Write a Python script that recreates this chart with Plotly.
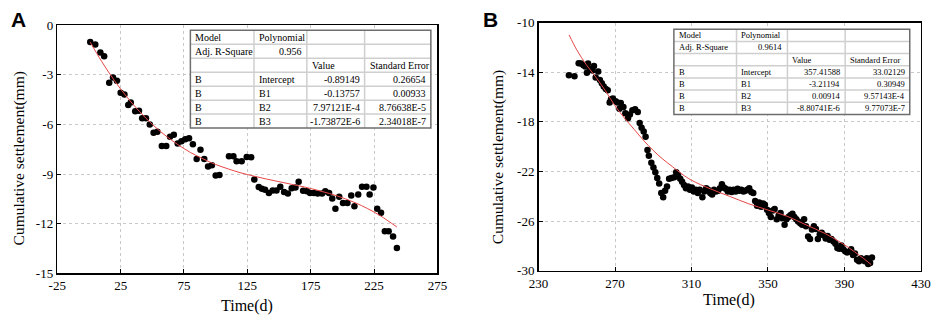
import plotly.graph_objects as go

W, H = 941, 324

# ---------------- Data: panel A ----------------
time_a = [1, 5, 9, 12, 16, 19, 22, 25, 28, 31, 33, 36.5, 39.5, 42, 45, 48, 51, 54, 57.5, 61, 64, 67,
          70, 73, 76, 79, 82, 85, 88, 91, 94, 97, 100, 103, 110.5, 114, 116.5, 120.5, 124.5, 128,
          130.5, 134, 136.5, 139, 142, 145, 148, 151, 154, 157, 160, 163, 165.5, 169, 172, 174.5,
          177.5, 180.5, 184, 186.5, 189.5, 192, 194.5, 197.5, 200.5, 204, 207, 209.5, 212.5, 215.5,
          219, 221.5, 224.5, 227.5, 230.5, 233.5, 236.5, 240, 243]
settle_a = [-1.02, -1.17, -1.65, -1.88, -3.48, -3.17, -3.36, -4.09, -4.19, -4.82, -4.67, -5.2, -5.17,
            -5.63, -5.63, -6.01, -6.51, -6.45, -7.3, -7.3, -6.74, -6.63, -7.16, -7.01, -6.89, -6.84,
            -7.2, -8.09, -7.53, -8.09, -8.55, -8.47, -9.08, -9.05, -7.93, -7.93, -8.22, -8.22, -7.97,
            -7.99, -9.33, -9.78, -9.89, -9.95, -10.14, -9.99, -9.99, -9.76, -10.09, -10.18, -9.85,
            -9.81, -9.47, -10.01, -10.04, -10.14, -10.14, -10.18, -10.18, -10.04, -10.14, -10.47,
            -11.1, -10.37, -10.75, -10.75, -10.29, -10.94, -10.24, -9.76, -9.76, -10.24, -9.81,
            -11.1, -11.33, -12.46, -12.46, -12.77, -13.46]
fit_time_a = [1, 10, 20, 30, 40, 50, 60, 70, 80, 90, 100, 110, 120, 130, 140, 150, 160, 170, 180,
              190, 200, 210, 220, 230, 243]
fit_settle_a = [-1.03, -2.19, -3.34, -4.35, -5.23, -6.0, -6.65, -7.21, -7.69, -8.08, -8.42, -8.69,
                -8.93, -9.12, -9.3, -9.46, -9.62, -9.78, -9.97, -10.18, -10.43, -10.73, -11.09,
                -11.52, -12.2]

# ---------------- Data: panel B ----------------
time_b = [245.9, 248.8, 251, 252.2, 253.5, 254.5, 255.3, 255.9, 257, 258.2, 259, 259.9, 261.2, 262.1,
          263.1, 264.1, 265.2, 266.2, 267.2, 267.9, 268.9, 270.3, 271.3, 272.3, 273, 274.4, 275.4,
          276.8, 277.8, 279.1, 280.5, 281.9, 282.9, 283.9, 285, 286, 287, 287.7, 289, 290.1, 291.1,
          292.1, 293.1, 294.2, 295.2, 296.2, 297.2, 298.3, 299.6, 301, 302, 303, 304.1, 305.1, 306.1,
          307.1, 308.2, 309.2, 310.2, 311.2, 312.3, 313.3, 314.3, 315.7, 316.7, 317.7, 318.7, 319.8,
          320.8, 321.8, 322.8, 323.9, 324.9, 325.9, 326.9, 327.9, 329, 330, 331, 332, 333.1, 334.1,
          335.1, 336.1, 337.2, 338.2, 339.2, 340.2, 341.3, 342.3, 343.3, 344.3, 345.4, 346.4, 347.4,
          348.4, 349.5, 350.5, 351.5, 352.5, 353.5, 354.6, 355.6, 356.6, 357.6, 358.7, 359.7, 360.7,
          361.7, 362.8, 363.8, 364.8, 365.8, 366.9, 367.9, 368.9, 369.9, 371, 372, 373, 374, 375.1,
          376.1, 377.1, 378.1, 379.1, 380.2, 381.2, 382.2, 383.2, 384.3, 385.3, 386.3, 387.3, 388.4,
          389.4, 390.4, 391.4, 392.5, 393.5, 394.5, 395.5, 396.6, 397.6, 398.6, 399.6, 400.7, 401.7,
          402.4, 403.4, 404.4]
settle_b = [-14.25, -14.33, -13.28, -13.3, -13.43, -13.53, -14.05, -13.3, -13.74, -13.87, -13.5,
            -14.43, -13.94, -14.63, -14.89, -15.15, -15.35, -15.45, -16.43, -16.17, -16.12, -16.33,
            -16.43, -16.94, -16.48, -16.81, -17.3, -17.71, -17.4, -17.07, -16.99, -17.2, -18.09,
            -18.48, -18.78, -19.19, -20.27, -20.73, -21.29, -21.68, -22.06, -22.52, -22.96, -23.73,
            -24.06, -23.55, -23.21, -22.57, -22.52, -22.45, -22.06, -22.27, -22.57, -22.83, -23.09,
            -23.34, -23.21, -23.47, -23.29, -23.6, -23.47, -23.73, -23.47, -24.06, -23.6, -23.34,
            -23.47, -23.73, -23.85, -23.47, -23.6, -23.55, -23.34, -23.03, -23.29, -23.39, -23.6,
            -23.47, -23.65, -23.47, -23.6, -23.39, -23.55, -23.47, -23.6, -23.55, -23.47, -23.34,
            -23.65, -23.73, -24.37, -24.75, -24.5, -24.83, -24.58, -24.68, -25.08, -25.34, -25.65,
            -25.13, -25.01, -25.85, -25.52, -25.34, -25.77, -26.29, -25.85, -25.65, -25.52, -25.39,
            -25.65, -25.85, -26.03, -26.16, -26.29, -25.85, -26.41, -27.23, -27.44, -26.67, -26.41,
            -26.62, -27.44, -27.06, -26.93, -27.13, -27.39, -27.18, -27.49, -27.44, -27.64, -27.82,
            -28.16, -28.21, -27.95, -28.26, -28.41, -28.52, -28.46, -28.26, -28.72, -28.59, -29.1,
            -29.23, -28.98, -29.1, -29.23, -28.98, -29.44, -29.36, -28.92]
fit_time_b = [246, 250, 255, 260, 265, 270, 275, 280, 285, 290, 295, 300, 305, 310, 320, 330, 340,
              350, 360, 370, 380, 390, 400, 404]
fit_settle_b = [-11.0, -12.2, -13.4, -14.4, -15.5, -16.7, -17.7, -18.6, -19.5, -20.3, -21.0, -21.6,
                -22.2, -22.7, -23.4, -24.0, -24.6, -25.1, -25.6, -26.3, -27.0, -27.9, -29.0, -29.5]

# ---------------- Tick labels ----------------
xticks_a = [-25, 25, 75, 125, 175, 225, 275]
xticklabels_a = ["-25", "25", "75", "125", "175", "225", "275"]
yticks_a = [0, -3, -6, -9, -12, -15]
yticklabels_a = ["0", "-3", "-6", "-9", "-12", "-15"]
xticks_b = [230, 270, 310, 350, 390, 430]
xticklabels_b = ["230", "270", "310", "350", "390", "430"]
yticks_b = [-10, -14, -18, -22, -26, -30]
yticklabels_b = ["-10", "-14", "-18", "-22", "-26", "-30"]

# ---------------- Fit tables ----------------
table_a = [["Model", "Polynomial", "", ""],
           ["Adj. R-Square", "0.956", "", ""],
           ["", "", "Value", "Standard Error"],
           ["B", "Intercept", "-0.89149", "0.26654"],
           ["B", "B1", "-0.13757", "0.00933"],
           ["B", "B2", "7.97121E-4", "8.76638E-5"],
           ["B", "B3", "-1.73872E-6", "2.34018E-7"]]
table_b = [["Model", "Polynomial", "", ""],
           ["Adj. R-Square", "0.9614", "", ""],
           ["", "", "Value", "Standard Error"],
           ["B", "Intercept", "357.41588", "33.02129"],
           ["B", "B1", "-3.21194", "0.30949"],
           ["B", "B2", "0.00914", "9.57143E-4"],
           ["B", "B3", "-8.80741E-6", "9.77073E-7"]]


def px(x):
    return x / W


def py(y):
    return 1 - y / H


SERIF = "Liberation Serif"

fig = go.Figure()

fig.add_trace(go.Scatter(x=time_a, y=settle_a, mode="markers", xaxis="x", yaxis="y",
                         marker=dict(color="black", size=6.5), showlegend=False))
fig.add_trace(go.Scatter(x=fit_time_a, y=fit_settle_a, mode="lines", xaxis="x", yaxis="y",
                         line=dict(color="rgb(230,70,70)", width=1, shape="spline"), showlegend=False))
fig.add_trace(go.Scatter(x=time_b, y=settle_b, mode="markers", xaxis="x2", yaxis="y2",
                         marker=dict(color="black", size=6.5), showlegend=False))
fig.add_trace(go.Scatter(x=fit_time_b, y=fit_settle_b, mode="lines", xaxis="x2", yaxis="y2",
                         line=dict(color="rgb(230,70,70)", width=1, shape="spline"), showlegend=False))

axis_common = dict(showline=True, linecolor="black", linewidth=1.5, mirror=True,
                   ticks="inside", ticklen=4, tickcolor="black", tickwidth=1,
                   showgrid=True, gridcolor="#c9c9c9", griddash="dot", gridwidth=1,
                   zeroline=False, tickfont=dict(family=SERIF, size=13, color="black"),
                   ticklabeloverflow="allow", fixedrange=True)

fig.update_layout(
    width=W, height=H, margin=dict(l=0, r=0, t=0, b=0),
    font=dict(family=SERIF, color="black"),
    paper_bgcolor="white", plot_bgcolor="white", showlegend=False,
    xaxis=dict(domain=[px(48.3), px(436.7)], anchor="y", range=[-25, 275],
               tickvals=xticks_a, ticktext=xticklabels_a, **axis_common),
    yaxis=dict(domain=[py(279.3), py(19)], anchor="x", range=[-15, 0],
               tickvals=yticks_a, ticktext=yticklabels_a, **axis_common),
    xaxis2=dict(domain=[px(540), px(930.7)], anchor="y2", range=[230, 430],
                tickvals=xticks_b, ticktext=xticklabels_b, **axis_common),
    yaxis2=dict(domain=[py(276.7), py(16.3)], anchor="x2", range=[-30, -10],
                tickvals=yticks_b, ticktext=yticklabels_b, **axis_common),
)

shapes = []
annotations = []


def draw_table(rows, left, top, colb, rowh, fsize, pad):
    n = len(rows)
    bottom = top + n * rowh
    shapes.append(dict(type="rect", xref="paper", yref="paper", x0=px(left), x1=px(colb[-1]),
                       y0=py(bottom), y1=py(top), fillcolor="white", line=dict(width=0),
                       layer="above"))
    for i in range(1, n):
        yy = py(top + i * rowh)
        shapes.append(dict(type="line", xref="paper", yref="paper", x0=px(left), x1=px(colb[-1]),
                           y0=yy, y1=yy, line=dict(color="#cfcfcf", width=1.5), layer="above"))
    for c in colb[1:-1]:
        shapes.append(dict(type="line", xref="paper", yref="paper", x0=px(c), x1=px(c),
                           y0=py(bottom), y1=py(top), line=dict(color="#cfcfcf", width=1.5),
                           layer="above"))
    shapes.append(dict(type="rect", xref="paper", yref="paper", x0=px(left), x1=px(colb[-1]),
                       y0=py(bottom), y1=py(top), line=dict(color="#6e6e6e", width=1.5),
                       layer="above"))
    for r, row in enumerate(rows):
        yc = py(top + (r + 0.5) * rowh)
        for c, txt in enumerate(row):
            if not txt:
                continue
            right_align = (r == 1 and c == 1) or (r >= 3 and c >= 2)
            if right_align:
                xx, anc = px(colb[c + 1] - pad), "right"
            else:
                xx, anc = px(colb[c] + pad), "left"
            annotations.append(dict(text=txt, xref="paper", yref="paper", x=xx, y=yc,
                                    xanchor=anc, yanchor="middle", showarrow=False,
                                    font=dict(family=SERIF, size=fsize, color="black")))


draw_table(table_a, 184.3, 24.3, [184.3, 249.3, 303.3, 362.3, 430], 14.67, 10, 3)
draw_table(table_b, 678.3, 23.3, [678.3, 742.3, 794.3, 853.3, 919.3], 12.77, 8.5, 3)

# Axis titles and panel letters
annotations += [
    dict(text="Cumulative settlement(mm)", xref="paper", yref="paper", x=px(9), y=py(159),
         textangle=-90, showarrow=False, xanchor="center", yanchor="middle",
         font=dict(family=SERIF, size=15.5, color="black")),
    dict(text="Time(d)", xref="paper", yref="paper", x=px(242), y=py(314),
         showarrow=False, xanchor="center", yanchor="middle",
         font=dict(family=SERIF, size=16, color="black")),
    dict(text="Cumulative settlement(mm)", xref="paper", yref="paper", x=px(498), y=py(157),
         textangle=-90, showarrow=False, xanchor="center", yanchor="middle",
         font=dict(family=SERIF, size=15.5, color="black")),
    dict(text="Time(d)", xref="paper", yref="paper", x=px(735), y=py(307),
         showarrow=False, xanchor="center", yanchor="middle",
         font=dict(family=SERIF, size=16, color="black")),
    dict(text="<b>A</b>", xref="paper", yref="paper", x=px(9), y=py(13),
         showarrow=False, xanchor="center", yanchor="middle",
         font=dict(family="Liberation Sans", size=21, color="black")),
    dict(text="<b>B</b>", xref="paper", yref="paper", x=px(491), y=py(13),
         showarrow=False, xanchor="center", yanchor="middle",
         font=dict(family="Liberation Sans", size=21, color="black")),
]

fig.update_layout(shapes=shapes, annotations=annotations)
fig.write_html("out.html", config={"displayModeBar": False, "staticPlot": True},
               post_script="document.body.style.margin='0';document.body.style.overflow='hidden';")
